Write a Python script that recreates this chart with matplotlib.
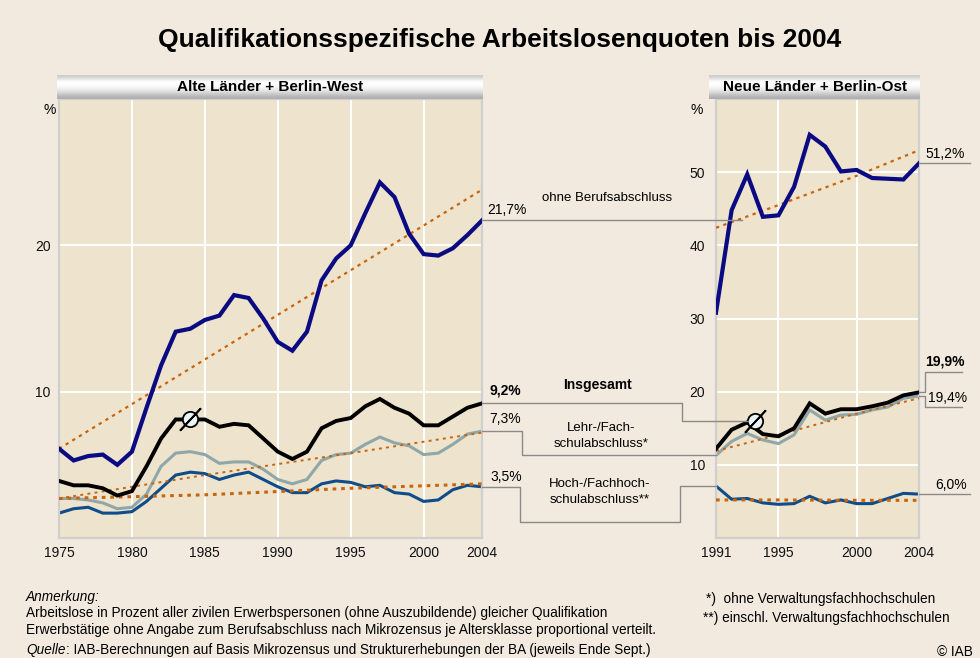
import numpy as np
import matplotlib
matplotlib.use("Agg")
import matplotlib.pyplot as plt
from matplotlib.lines import Line2D

plt.rcParams['font.family'] = ['Liberation Sans', 'DejaVu Sans']

# --- Alte Länder + Berlin-West, 1975-2004 ---
years_w = list(range(1975, 2005))
ohne_w = [6.1, 5.3, 5.6, 5.7, 5.0, 5.9, 8.9, 11.8, 14.1, 14.3, 14.9, 15.2, 16.6, 16.4, 15.0,
          13.4, 12.8, 14.1, 17.6, 19.1, 20.0, 22.2, 24.3, 23.3, 20.8, 19.4, 19.3, 19.8, 20.7, 21.7]
insg_w = [3.9, 3.6, 3.6, 3.4, 2.9, 3.2, 4.9, 6.8, 8.1, 8.1, 8.1, 7.6, 7.8, 7.7, 6.8,
          5.9, 5.4, 5.9, 7.5, 8.0, 8.2, 9.0, 9.5, 8.9, 8.5, 7.7, 7.7, 8.3, 8.9, 9.2]
lehr_w = [2.7, 2.7, 2.6, 2.4, 2.0, 2.1, 3.0, 4.9, 5.8, 5.9, 5.7, 5.1, 5.2, 5.2, 4.7,
          4.0, 3.7, 4.0, 5.3, 5.7, 5.8, 6.4, 6.9, 6.5, 6.3, 5.7, 5.8, 6.4, 7.1, 7.3]
hoch_w = [1.7, 2.0, 2.1, 1.7, 1.7, 1.8, 2.5, 3.4, 4.3, 4.5, 4.4, 4.0, 4.3, 4.5, 4.0,
          3.5, 3.1, 3.1, 3.7, 3.9, 3.8, 3.5, 3.6, 3.1, 3.0, 2.5, 2.6, 3.3, 3.6, 3.5]
trend_years_w = [1975, 1985, 1995, 2004]
ohne_trend_w = [6.1, 12.2, 18.3, 23.8]
lehr_trend_w = [2.7, 4.3, 5.8, 7.2]
hoch_trend_w = [2.7, 2.95, 3.4, 3.7]

# --- Neue Länder + Berlin-Ost, 1991-2004 ---
years_o = list(range(1991, 2005))
ohne_o = [30.8, 44.8, 49.7, 43.9, 44.1, 48.0, 55.1, 53.5, 50.1, 50.3, 49.2, 49.1, 49.0, 51.2]
insg_o = [12.2, 14.8, 15.8, 14.2, 13.9, 15.0, 18.4, 17.0, 17.6, 17.6, 18.0, 18.5, 19.5, 19.9]
lehr_o = [11.3, 13.2, 14.3, 13.4, 12.9, 14.1, 17.5, 16.1, 16.8, 16.9, 17.5, 17.9, 19.1, 19.4]
hoch_o = [7.1, 5.3, 5.4, 4.8, 4.6, 4.7, 5.7, 4.8, 5.2, 4.7, 4.7, 5.4, 6.1, 6.0]
trend_years_o = [1991, 1995, 2000, 2004]
ohne_trend_o = [42.4, 45.5, 49.5, 53.0]
lehr_trend_o = [11.9, 14.1, 17.0, 19.1]
hoch_trend_o = [5.2, 5.2, 5.15, 5.15]

W, H = 980, 658
BG = '#F2EADF'
PLOT_BG = '#EEE3CD'
NAVY = '#0A0A82'
GREY = '#8FA7A8'
BLUE = '#0F4C8A'
ORANGE = '#C8650C'
LINE = '#8A8A8A'

fig = plt.figure(figsize=(W / 100, H / 100), dpi=100, facecolor=BG)


def box(x0, y0, x1, y1):
    # pixel box (top-left origin) -> figure rect
    return [x0 / W, 1 - y1 / H, (x1 - x0) / W, (y1 - y0) / H]


def style_axes(ax, xlim, ylim, xticks, yticks):
    ax.set_facecolor(PLOT_BG)
    ax.set_xlim(*xlim)
    ax.set_ylim(*ylim)
    ax.set_xticks(xticks)
    ax.set_yticks(yticks)
    ax.grid(True, color='white', lw=1.4)
    ax.set_axisbelow(True)
    ax.tick_params(length=0, labelsize=10, colors='#111111')
    ax.tick_params(axis='x', pad=6)
    for s in ax.spines.values():
        s.set_color('#CFCFCF')
        s.set_linewidth(1.6)


axw = fig.add_axes(box(59, 99, 482, 538))
style_axes(axw, (1975, 2004), (0, 30), [1975, 1980, 1985, 1990, 1995, 2000, 2004], [10, 20])
axw.tick_params(axis='y', pad=6)

axo = fig.add_axes(box(716, 99, 919, 538))
style_axes(axo, (1991, 2004), (0, 60), [1991, 1995, 2000, 2004], [10, 20, 30, 40, 50])
axo.tick_params(axis='y', pad=8)

for ax, yrs, tyrs, series, trends in [
        (axw, years_w, trend_years_w, (ohne_w, insg_w, lehr_w, hoch_w),
         (ohne_trend_w, lehr_trend_w, hoch_trend_w)),
        (axo, years_o, trend_years_o, (ohne_o, insg_o, lehr_o, hoch_o),
         (ohne_trend_o, lehr_trend_o, hoch_trend_o))]:
    ohne, insg, lehr, hoch = series
    ax.plot(yrs, lehr, color=GREY, lw=2.2, zorder=2, solid_joinstyle='miter')
    ax.plot(yrs, hoch, color=BLUE, lw=2.2, zorder=2, solid_joinstyle='miter')
    ax.plot(tyrs, trends[1], color=ORANGE, lw=1.4, ls=(0, (1.5, 2.2)), zorder=3)
    ax.plot(tyrs, trends[2], color=ORANGE, lw=2.2, ls=(0, (1.2, 1.6)), zorder=3)
    ax.plot(tyrs, trends[0], color=ORANGE, lw=1.6, ls=(0, (1.5, 2.0)), zorder=3)
    ax.plot(yrs, insg, color='black', lw=2.8, zorder=4, solid_joinstyle='miter')
    ax.plot(yrs, ohne, color=NAVY, lw=3.0, zorder=5, solid_joinstyle='miter')

# Ø marks on the Insgesamt lines
for ax, x, y in [(axw, 1984, insg_w[1984 - 1975]), (axo, 1993.5, 16.0)]:
    ax.plot([x], [y], marker='o', ms=11, mfc='#E8F4F6', mec='black', mew=1.3, zorder=6)
    ax.plot([x], [y], marker=(2, 2, -43), ms=22, mec='black', mew=1.3, zorder=7)

# "%" unit labels
fig.text(50 / W, 1 - 110 / H, '%', ha='center', va='center', fontsize=10)
fig.text(697 / W, 1 - 110 / H, '%', ha='center', va='center', fontsize=10)

# header bars with a metallic gradient
grad = np.array([0.80, 0.90, 1.0, 1.0, 0.97, 0.92, 0.85, 0.76, 0.68])
for (x0, x1), label in [((57, 483), 'Alte Länder + Berlin-West'),
                        ((709, 920), 'Neue Länder + Berlin-Ost')]:
    hb = fig.add_axes(box(x0, 75, x1, 99))
    hb.imshow(grad[:, None], cmap='gray', vmin=0, vmax=1, aspect='auto',
              extent=(0, 1, 0, 1), interpolation='bicubic')
    hb.set_axis_off()
    hb.text(0.5, 0.52, label, ha='center', va='center', fontsize=11,
            fontweight='bold', transform=hb.transAxes)

fig.text(500 / W, 1 - 40 / H, 'Qualifikationsspezifische Arbeitslosenquoten bis 2004',
         ha='center', va='center', fontsize=19, fontweight='bold')


def dpx(ax, x, y):
    # data point -> pixel (top-left origin)
    px, py = ax.transData.transform((x, y))
    return px, H - py


def path(points):
    xs = [p[0] / W for p in points]
    ys = [1 - p[1] / H for p in points]
    fig.add_artist(Line2D(xs, ys, color=LINE, lw=1.0, transform=fig.transFigure, zorder=1))


def ftext(x, y, s, **kw):
    kw.setdefault('fontsize', 9.5)
    kw.setdefault('va', 'center')
    fig.text(x / W, 1 - y / H, s, **kw)


xe, ye = dpx(axw, 2004, ohne_w[-1])
path([(xe, ye), (742, ye)])
ftext(487, ye - 10, '21,7%', fontsize=10)
ftext(607, 198, 'ohne Berufsabschluss', ha='center')

xe, ye = dpx(axw, 2004, insg_w[-1])
_, yr = dpx(axo, 1993.5, 16.0)
path([(xe, ye), (682, ye), (682, yr), (748, yr)])
ftext(489, ye - 13, '9,2%', fontsize=10, fontweight='bold')
ftext(597, 385, 'Insgesamt', ha='center', fontweight='bold', fontsize=10)

xe, ye = dpx(axw, 2004, lehr_w[-1])
xs_, yr = dpx(axo, 1991, lehr_o[0])
path([(xe, ye), (522, ye), (522, yr), (xs_, yr)])
ftext(489, ye - 12, '7,3%', fontsize=10)
ftext(601, 436, 'Lehr-/Fach-\nschulabschluss*', ha='center', linespacing=1.5)

xe, ye = dpx(axw, 2004, hoch_w[-1])
xs_, yr = dpx(axo, 1991, hoch_o[0])
path([(xe, ye), (520, ye), (520, 522), (680, 522), (680, yr), (xs_, yr)])
ftext(490, ye - 10, '3,5%', fontsize=10)
ftext(600, 492, 'Hoch-/Fachhoch-\nschulabschluss**', ha='center', linespacing=1.5)

# right-hand value labels
xe, ye = dpx(axo, 2004, ohne_o[-1])
path([(xe, ye), (970, ye)])
ftext(925, ye - 9, '51,2%', fontsize=10)

xe, ye = dpx(axo, 2004, insg_o[-1])
path([(xe, ye), (925, ye), (925, 372), (962, 372)])
ftext(925, 361, '19,9%', fontsize=10, fontweight='bold')

xe, ye = dpx(axo, 2004, lehr_o[-1])
path([(xe, ye), (925, ye), (925, 407), (962, 407)])
ftext(928, 398, '19,4%', fontsize=10)

xe, ye = dpx(axo, 2004, hoch_o[-1])
path([(xe, ye), (970, ye)])
ftext(935, ye - 9, '6,0%', fontsize=10)

# footer
fs = 9.8
ftext(26, 597, 'Anmerkung:', fontsize=fs, style='italic')
ftext(26, 613, 'Arbeitslose in Prozent aller zivilen Erwerbspersonen (ohne Auszubildende) '
      'gleicher Qualifikation', fontsize=fs)
ftext(26, 630, 'Erwerbstätige ohne Angabe zum Berufsabschluss nach Mikrozensus je '
      'Altersklasse proportional verteilt.', fontsize=fs)
t = fig.text(26 / W, 1 - 650 / H, 'Quelle', fontsize=fs, style='italic', va='center')
r = fig.canvas.get_renderer()
bb = t.get_window_extent(r)
fig.text(bb.x1 / W, 1 - 650 / H, ': IAB-Berechnungen auf Basis Mikrozensus und '
         'Strukturerhebungen der BA (jeweils Ende Sept.)', fontsize=fs, va='center')
ftext(706, 599, '*)  ohne Verwaltungsfachhochschulen', fontsize=fs)
ftext(703, 618, '**) einschl. Verwaltungsfachhochschulen', fontsize=fs)
ftext(937, 652, '© IAB', fontsize=fs)

fig.savefig('out.png', dpi=100, facecolor=BG)
